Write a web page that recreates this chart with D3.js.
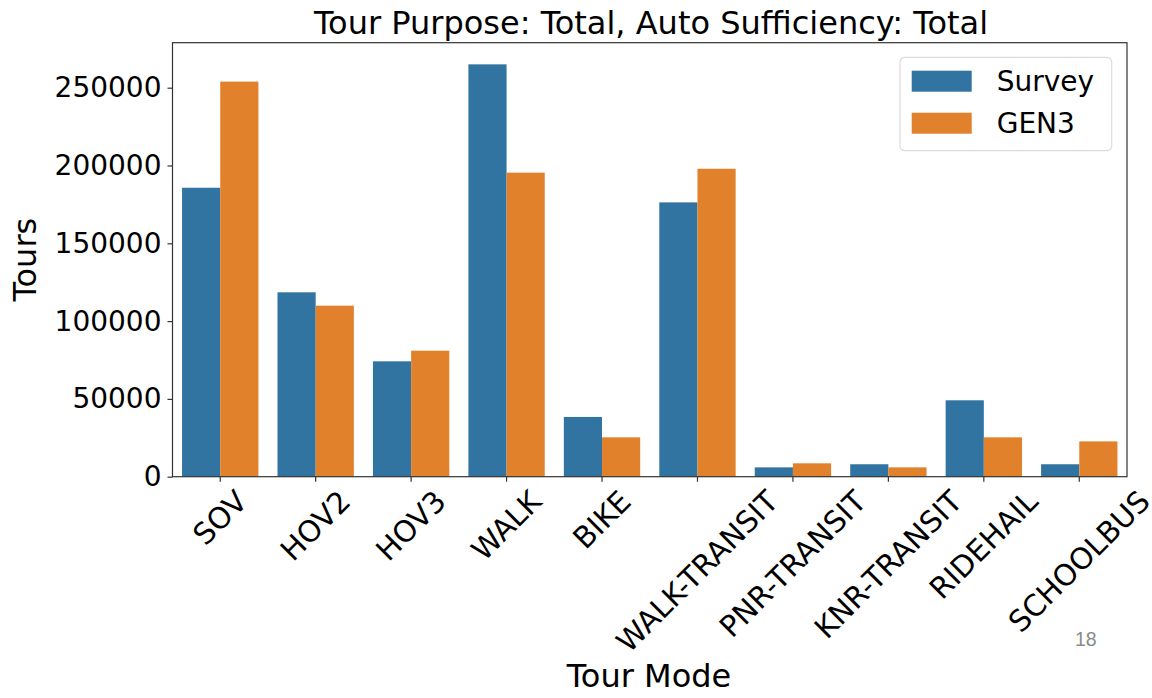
<!DOCTYPE html>
<html>
<head>
<meta charset="utf-8">
<script src="https://cdn.jsdelivr.net/npm/d3@7"></script>
<style>
  body { margin: 0; background: #fff; }
  text { font-family: "DejaVu Sans", sans-serif; fill: #000; }
</style>
</head>
<body>
<svg id="chart" width="1152" height="698"></svg>
<script>
const modes = ['SOV', 'HOV2', 'HOV3', 'WALK', 'BIKE', 'WALK-TRANSIT', 'PNR-TRANSIT', 'KNR-TRANSIT', 'RIDEHAIL', 'SCHOOLBUS']
const seriesNames = ['Survey', 'GEN3']
const survey = [185700, 118500, 74150, 265000, 38400, 176300, 6000, 8000, 49100, 8000]
const gen3 = [253900, 109900, 81000, 195400, 25300, 197900, 8600, 6000, 25300, 22700]
const yTicks = [0, 50000, 100000, 150000, 200000, 250000]
const colors = ['#3274a1', '#e1812c']

const margin = { left: 172.5, top: 42.7, right: 1127, bottom: 476.7 }
const svg = d3.select('#chart')

const rows = modes.map((m, i) => ({ mode: m, values: [survey[i], gen3[i]] }))

const xBand = d3.scaleBand()
  .domain(modes)
  .range([margin.left, margin.right])

const yMax = d3.max([...survey, ...gen3]) * 1.0525
const y = d3.scaleLinear()
  .domain([0, yMax])
  .range([margin.bottom, margin.top])

// bars
const groups = svg.append('g')
  .selectAll('g')
  .data(rows)
  .enter()
  .append('g')
  .attr('transform', d => `translate(${xBand(d.mode) + xBand.bandwidth() * 0.1},0)`)

const barW = xBand.bandwidth() * 0.4
groups.selectAll('rect')
  .data(d => d.values)
  .enter()
  .append('rect')
  .attr('x', (d, i) => i * barW)
  .attr('y', d => y(d))
  .attr('width', barW)
  .attr('height', d => y(0) - y(d))
  .attr('fill', (d, i) => colors[i])

// frame
svg.append('rect')
  .attr('x', margin.left)
  .attr('y', margin.top)
  .attr('width', margin.right - margin.left)
  .attr('height', margin.bottom - margin.top)
  .attr('fill', 'none')
  .attr('stroke', '#333')
  .attr('stroke-width', 1.2)

// y axis
const yAxis = svg.append('g')
  .attr('transform', `translate(${margin.left},0)`)
  .call(d3.axisLeft(y).tickValues(yTicks).tickSize(5).tickPadding(6).tickFormat(d3.format('d')))
yAxis.select('.domain').remove()
yAxis.selectAll('line').attr('stroke', '#333').attr('stroke-width', 1.2)
yAxis.selectAll('text')
  .attr('font-size', 28)
  .attr('font-family', 'DejaVu Sans')
  .attr('fill', '#1a1a1a')

// x axis ticks
const xAxis = svg.append('g')
  .attr('transform', `translate(0,${margin.bottom})`)
  .call(d3.axisBottom(xBand).tickSize(5).tickFormat(''))
xAxis.select('.domain').remove()
xAxis.selectAll('line').attr('stroke', '#333').attr('stroke-width', 1.2)

// rotated x tick labels, bbox centred on the tick like matplotlib
const fs = 29.5
const labelTop = margin.bottom + 9
const lblG = svg.append('g')
modes.forEach(m => {
  const t = lblG.append('text')
    .attr('font-size', fs)
    .attr('fill', '#1a1a1a')
    .attr('text-anchor', 'middle')
    .attr('dominant-baseline', 'central')
    .text(m)
  const w = t.node().getComputedTextLength()
  const h = fs * 1.0
  const side = (w + h) * Math.SQRT1_2
  const cx = xBand(m) + xBand.bandwidth() / 2
  t.attr('transform', `translate(${cx},${labelTop + side / 2}) rotate(-45)`)
})

// title
svg.append('text')
  .attr('x', 651)
  .attr('y', 34)
  .attr('text-anchor', 'middle')
  .attr('font-size', 32)
  .text('Tour Purpose: Total, Auto Sufficiency: Total')

// axis labels
svg.append('text')
  .attr('transform', `translate(36,${(margin.top + margin.bottom) / 2}) rotate(-90)`)
  .attr('text-anchor', 'middle')
  .attr('font-size', 32)
  .text('Tours')

svg.append('text')
  .attr('x', 649)
  .attr('y', 687)
  .attr('text-anchor', 'middle')
  .attr('font-size', 32)
  .text('Tour Mode')

// legend
const legend = svg.append('g')
legend.append('rect')
  .attr('x', 900)
  .attr('y', 57.3)
  .attr('width', 211.7)
  .attr('height', 93.4)
  .attr('rx', 5)
  .attr('fill', '#fff')
  .attr('fill-opacity', 0.8)
  .attr('stroke', '#dcdcdc')
  .attr('stroke-width', 1.2)

const legendItems = legend.selectAll('g.item')
  .data(seriesNames)
  .enter()
  .append('g')
  .attr('class', 'item')
  .attr('transform', (d, i) => `translate(0,${i * 42})`)

legendItems.append('rect')
  .attr('x', 911.7)
  .attr('y', 70.7)
  .attr('width', 60)
  .attr('height', 21)
  .attr('fill', (d, i) => colors[i])

legendItems.append('text')
  .attr('x', 996.7)
  .attr('y', 90.7)
  .attr('font-size', 28)
  .attr('fill', '#1a1a1a')
  .text(d => d)

// slide number
svg.append('text')
  .attr('x', 1075)
  .attr('y', 645.7)
  .attr('font-size', 19.5)
  .style('font-family', '"Liberation Sans", sans-serif')
  .style('fill', '#8a8a8a')
  .text('18')
</script>
</body>
</html>
